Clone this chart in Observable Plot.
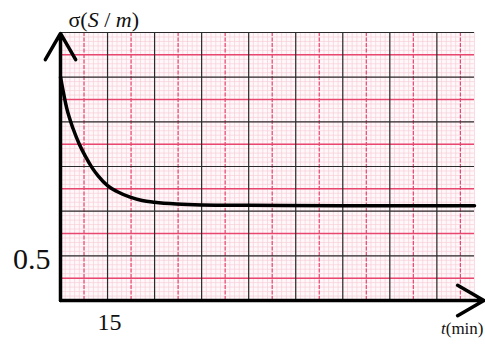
<!DOCTYPE html>
<html><head><meta charset="utf-8">
<script src="https://cdn.jsdelivr.net/npm/d3@7"></script>
<script src="https://cdn.jsdelivr.net/npm/@observablehq/plot@0.6"></script>
<style>body{margin:0;background:#fff}#chart{width:485px;height:345px}</style>
</head><body><div id="chart"></div>
<script>
// data
const tMin  = [0, 2, 4, 6, 8, 10, 12, 15, 18, 22, 26, 30, 37, 45, 60, 90, 132];
const sigma = [0.9, 0.83, 0.785, 0.75, 0.722, 0.698, 0.679, 0.657, 0.644, 0.632, 0.624, 0.62, 0.616, 0.614, 0.613, 0.612, 0.612];
const xTicks = [15];
const yTicks = [0.5];
const xLabelParts = [["t", true], ["(min)", false]];
const yLabelParts = [["σ(", false], ["S", true], [" / ", false], ["m", true], [")", false]];
const xDomain = [0, 132];
const yDomain = [0.4, 1.0];
const xArrowEnd = 135;
const yArrowEnd = 0.998;

// graph-paper grid
const majorX = d3.range(0, 9).map(i => i * 15);
const redX = d3.range(0, 9).map(i => 7.5 + i * 15);
const minorX = d3.range(0, 89).map(i => i * 1.5);
const majorY = d3.range(4, 11).map(i => i / 10);
const redY = d3.range(4, 10).map(i => i / 10 + 0.05);
const minorY = d3.range(40, 101).map(i => i / 100);

const xLabel = xLabelParts.map(d => d[0]).join("");
const yLabel = yLabelParts.map(d => d[0]).join("");
const data = tMin.map((t, i) => ({t, s: sigma[i]}));
const serif = "Liberation Serif, Times New Roman, serif";

const chart = Plot.plot({
  width: 485, height: 345,
  marginLeft: 60, marginRight: 11, marginTop: 32, marginBottom: 45,
  x: {domain: xDomain, axis: null},
  y: {domain: yDomain, axis: null},
  style: {background: "transparent", fontFamily: serif, color: "#111"},
  marks: [
    Plot.frame({fill: "#fff8fa", stroke: null}),
    Plot.ruleX(minorX, {stroke: "#f6cdd7", strokeWidth: 0.7}),
    Plot.ruleY(minorY, {stroke: "#f6cdd7", strokeWidth: 0.7}),
    Plot.ruleX(redX, {stroke: "#e8476f", strokeWidth: 1.2, strokeDasharray: "4,1.5"}),
    Plot.ruleY(redY, {stroke: "#e8476f", strokeWidth: 1.5}),
    Plot.ruleX(majorX, {stroke: "#2a2a2a", strokeWidth: 1.2}),
    Plot.ruleY(majorY, {stroke: "#2a2a2a", strokeWidth: 1.2}),
    Plot.line(data, {x: "t", y: "s", curve: "monotone-x", stroke: "#000", strokeWidth: 3.5}),
    Plot.arrow([{x1: 0, y1: yDomain[0], x2: 0, y2: yArrowEnd}], {x1: "x1", y1: "y1", x2: "x2", y2: "y2", stroke: "#000", strokeWidth: 3.5, headLength: 13}),
    Plot.arrow([{x1: 0, y1: yDomain[0], x2: xArrowEnd, y2: yDomain[0]}], {x1: "x1", y1: "y1", x2: "x2", y2: "y2", stroke: "#000", strokeWidth: 3.5, headLength: 13}),
    Plot.axisX({ticks: xTicks, tickSize: 0, tickPadding: 12, fontSize: 24, fontFamily: serif, dx: 2, tickFormat: d => String(d)}),
    Plot.axisY({ticks: yTicks, tickSize: 0, tickPadding: 10, fontSize: 30, fontFamily: serif, dy: 4, tickFormat: d => String(d)}),
    Plot.text([xLabel], {frameAnchor: "bottom-right", textAnchor: "end", lineAnchor: "bottom", dx: 9, dy: 33, fontSize: 17, fontFamily: serif}),
    Plot.text([yLabel], {frameAnchor: "top-left", textAnchor: "start", lineAnchor: "bottom", dx: 8, dy: -6, fontSize: 22, fontFamily: serif})
  ]
});

// mixed italic/upright label text
function styleLabel(svg, label, parts) {
  svg.querySelectorAll("text").forEach(el => {
    if (el.textContent === label) {
      el.textContent = "";
      parts.forEach(([s, it]) => {
        const ts = document.createElementNS("http://www.w3.org/2000/svg", "tspan");
        ts.textContent = s;
        if (it) ts.setAttribute("font-style", "italic");
        el.appendChild(ts);
      });
      el.style.whiteSpace = "pre";
    }
  });
}
styleLabel(chart, xLabel, xLabelParts);
styleLabel(chart, yLabel, yLabelParts);
document.getElementById("chart").appendChild(chart);
</script></body></html>
